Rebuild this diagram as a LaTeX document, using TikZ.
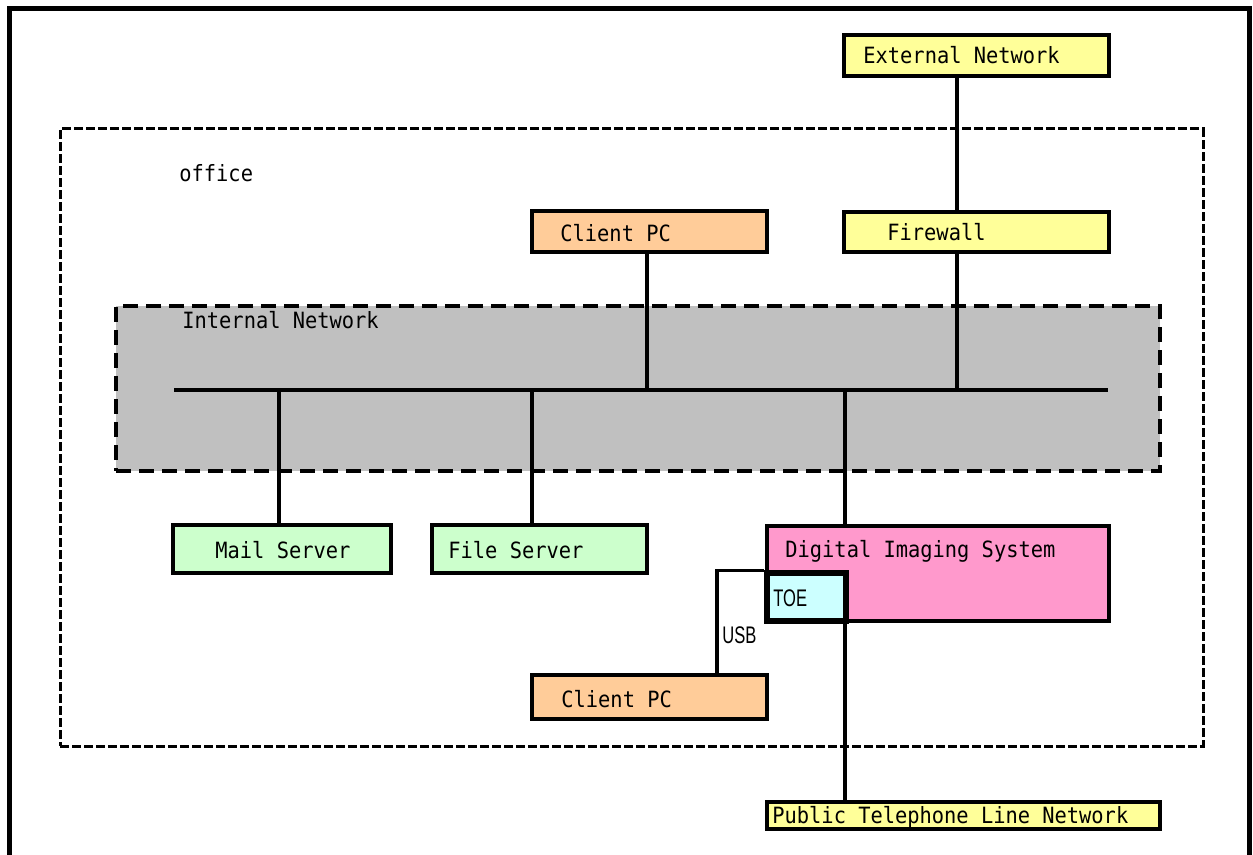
\documentclass[tikz,border=0pt]{standalone}
\usepackage{fontspec}
\setmainfont{DejaVu Sans Mono}[FakeStretch=0.91]
\newfontfamily\narrowfont{Liberation Sans}[FakeStretch=0.69]
\usetikzlibrary{fit}
\definecolor{pcfill}{HTML}{FFCC99}
\definecolor{yelfill}{HTML}{FFFF99}
\definecolor{srvfill}{HTML}{CCFFCC}
\definecolor{disfill}{HTML}{FF99CC}
\definecolor{toefill}{HTML}{CCFFFF}
\definecolor{netfill}{HTML}{C0C0C0}
\begin{document}
\begin{tikzpicture}[x=0.5pt,y=-0.5pt,
  box/.style={draw, line width=1.8pt, inner sep=0pt},
  lbl/.style={anchor=base west, inner sep=0pt, font=\fontsize{11.2}{13}\selectfont},
  nlbl/.style={anchor=base west, inner sep=0pt, font=\narrowfont\fontsize{12}{14}\selectfont},
  thickline/.style={line width=2.4pt},
  thinline/.style={line width=1.6pt},
  frame/.style={line width=2.5pt},
  officebox/.style={draw, line width=1.5pt, dash pattern=on 4.5pt off 1.5pt},
  netbox/.style={draw, fill=netfill, line width=2pt, dash pattern=on 7.5pt off 4pt}]
\useasboundingbox (0,0) rectangle (1253,855);

% outer frame (open at bottom)
\draw[frame] (9,870) -- (9,9) -- (1249,9) -- (1249,870);

% office area
\node[officebox, inner sep=0pt, fit={(60,129) (1203,746)}] (office) {};
\node[lbl] (officelbl) at (179,182) {office};

% internal network
\node[netbox, inner sep=0pt, fit={(116,306) (1160,471)}] (inet) {};
\node[lbl] (inetlbl) at (182,329) {Internal Network};

% boxes
\node[box, fill=yelfill, fit={(844,35) (1109,76)}] (ext) {};
\node[lbl] (extlbl) at (863,64) {External Network};
\node[box, fill=yelfill, fit={(844,212) (1109,252)}] (fw) {};
\node[lbl] (fwlbl) at (887,241) {Firewall};
\node[box, fill=pcfill, fit={(532,211) (767,252)}] (pc1) {};
\node[lbl] (pc1lbl) at (560,242) {Client PC};
\node[box, fill=srvfill, fit={(173,525) (391,573)}] (mail) {};
\node[lbl] (maillbl) at (215,558) {Mail Server};
\node[box, fill=srvfill, fit={(432,525) (647,573)}] (file) {};
\node[lbl] (filelbl) at (448,558) {File Server};
\node[box, fill=disfill, fit={(767,526) (1109,621)}] (dis) {};
\node[lbl] (dislbl) at (785,557) {Digital Imaging System};
\node[box, fill=toefill, line width=2.6pt, fit={(767,573) (846,621)}] (toe) {};
\node[nlbl] (toelbl) at (773,606) {TOE};
\node[box, fill=pcfill, fit={(532,675) (767,719)}] (pc2) {};
\node[lbl] (pc2lbl) at (561,707) {Client PC};
\node[box, fill=yelfill, fit={(767,802) (1160,829)}] (ptln) {};
\node[lbl] (ptlnlbl) at (772,823) {Public Telephone Line Network};

% reference coordinates
\coordinate (busL) at (174,390);
\coordinate (busR) at (1108,390);
\coordinate (fwx) at (957,0);
\coordinate (pc1x) at (647,0);
\coordinate (mailx) at (279,0);
\coordinate (filex) at (532,0);
\coordinate (disx) at (845,0);
\coordinate (usbx) at (717,0);

% connectors
\draw[thickline] (busL) -- (busR);
\draw[thinline] (ext.south -| fwx) -- (fw.north -| fwx);
\draw[thickline] (fw.south -| fwx) -- (busR -| fwx);
\draw[thickline] (pc1.south -| pc1x) -- (busR -| pc1x);
\draw[thickline] (busL -| mailx) -- (mail.north -| mailx);
\draw[thickline] (busL -| filex) -- (file.north -| filex);
\draw[thickline] (busL -| disx) -- (dis.north -| disx);
\draw[thinline] (toe.north west) -| (pc2.north -| usbx);
\node[nlbl] (usblbl) at (722,643) {USB};
\draw[thinline] (toe.south -| disx) -- (ptln.north -| disx);
\end{tikzpicture}
\end{document}
